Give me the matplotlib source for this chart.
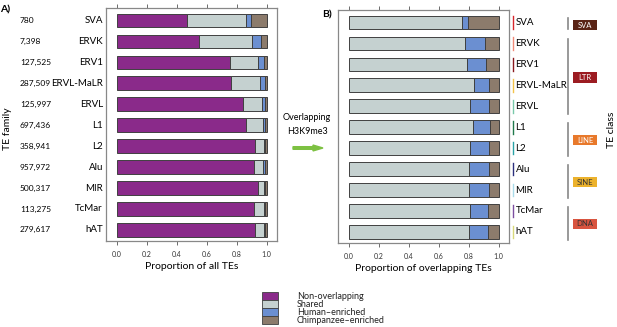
import matplotlib
matplotlib.use("Agg")
import matplotlib.pyplot as plt
from matplotlib.patches import Rectangle, FancyArrow
import numpy as np

plt.rcParams['font.family'] = ['Lato', 'DejaVu Sans']

families = ["SVA", "ERVK", "ERV1", "ERVL-MaLR", "ERVL", "L1", "L2", "Alu", "MIR", "TcMar", "hAT"]
counts = ["780", "7,398", "127,525", "287,509", "125,997", "697,436", "358,941", "957,972", "500,317", "113,275", "279,617"]

# Panel A: proportions of all TEs
a_nonoverlap = [0.468, 0.548, 0.757, 0.762, 0.840, 0.866, 0.926, 0.913, 0.940, 0.918, 0.924]
a_shared     = [0.396, 0.352, 0.187, 0.196, 0.127, 0.109, 0.056, 0.062, 0.044, 0.062, 0.056]
a_human      = [0.031, 0.060, 0.036, 0.029, 0.020, 0.016, 0.011, 0.015, 0.009, 0.010, 0.010]
a_chimp      = [0.105, 0.040, 0.020, 0.013, 0.013, 0.009, 0.007, 0.010, 0.007, 0.010, 0.010]

# Panel B: proportions of overlapping TEs
b_shared = [0.754, 0.777, 0.790, 0.835, 0.808, 0.828, 0.808, 0.804, 0.800, 0.812, 0.800]
b_human  = [0.043, 0.131, 0.123, 0.103, 0.130, 0.118, 0.130, 0.129, 0.138, 0.119, 0.131]
b_chimp  = [0.203, 0.092, 0.087, 0.062, 0.062, 0.054, 0.062, 0.067, 0.062, 0.069, 0.069]

family_colors = ["#d7262b", "#f08a78", "#8b1a1f", "#f3c34a", "#79c9a9", "#1f7a4c",
                 "#2aa3a6", "#2b2f7d", "#a9dbe9", "#7c4ea0", "#d9d97a"]

classes = ["SVA", "LTR", "LINE", "SINE", "DNA"]
class_spans = [(0, 0), (1, 4), (5, 6), (7, 8), (9, 10)]
class_colors = ["#5a2415", "#9c1c22", "#e8792b", "#ecb22c", "#d8543f"]
class_text = ["white", "white", "white", "#333333", "#333333"]

legend_labels = ["Non-overlapping", "Shared", "Human\u2013enriched", "Chimpanzee\u2013enriched"]
col_non = "#8a2a8a"
col_shared = "#c5d1d0"
col_human = "#6b8fd1"
col_chimp = "#8c7b6c"
edge = "#404040"

W, H = 617, 327
fig = plt.figure(figsize=(W / 100, H / 100), dpi=100)

def fx(px):
    return px / W

def fy(py):
    return 1 - py / H

def make_ax(left, right, top, bottom):
    return fig.add_axes([fx(left), fy(bottom), fx(right - left), (bottom - top) / H])

y = np.arange(len(families))
bh = 0.66

def style_ax(ax):
    ax.set_xlim(-0.073, 1.07)
    ax.set_ylim(10.53, -0.6)
    ax.set_yticks([])
    ax.set_xticks([0, 0.2, 0.4, 0.6, 0.8, 1.0])
    ax.set_xticklabels(["0.0", "0.2", "0.4", "0.6", "0.8", "1.0"], fontsize=5)
    ax.tick_params(axis='x', top=True, bottom=True, direction='out', length=3, width=0.6,
                   color="#555555", pad=4, labelcolor="#333333")
    for s in ax.spines.values():
        s.set_color("#888888")
        s.set_linewidth(0.9)

axA = make_ax(106, 277, 8, 241)
left = np.zeros(len(families))
for vals, c in [(a_nonoverlap, col_non), (a_shared, col_shared), (a_human, col_human), (a_chimp, col_chimp)]:
    axA.barh(y, vals, left=left, height=bh, color=c, edgecolor=edge, linewidth=0.7)
    left = left + np.array(vals)
style_ax(axA)
axA.set_xlabel("Proportion of all TEs", fontsize=7.5, labelpad=3)

axB = make_ax(338, 509, 10, 243)
left = np.zeros(len(families))
for vals, c in [(b_shared, col_shared), (b_human, col_human), (b_chimp, col_chimp)]:
    axB.barh(y, vals, left=left, height=bh, color=c, edgecolor=edge, linewidth=0.7)
    left = left + np.array(vals)
style_ax(axB)
axB.set_xlabel("Proportion of overlapping TEs", fontsize=7.5, labelpad=3)

# Panel A labels
trA = matplotlib.transforms.blended_transform_factory(fig.transFigure, axA.transData)
for i, (fam, cnt) in enumerate(zip(families, counts)):
    axA.text(fx(103), i, fam, transform=trA, ha='right', va='center', fontsize=7)
    axA.text(fx(20), i, cnt, transform=trA, ha='left', va='center', fontsize=6)

fig.text(fx(8), fy(129), "TE family", rotation=90, ha='center', va='center', fontsize=7.5)
fig.text(fx(0), fy(10), "A)", ha='left', va='center', fontsize=7.5, fontweight='bold')
fig.text(fx(322), fy(15), "B)", ha='left', va='center', fontsize=7.5, fontweight='bold')

# Overlapping text and arrow
fig.text(fx(307), fy(118), "Overlapping", ha='center', va='center', fontsize=6.5)
fig.text(fx(307), fy(132), "H3K9me3", ha='center', va='center', fontsize=6.5)
fig.patches.append(FancyArrow(fx(293), fy(148), fx(30), 0, width=0.008, head_width=0.018,
                              head_length=fx(10), length_includes_head=True,
                              color="#7dc142", transform=fig.transFigure, figure=fig))

# Panel B family labels with colored ticks
trB = matplotlib.transforms.blended_transform_factory(fig.transFigure, axB.transData)
for i, (fam, c) in enumerate(zip(families, family_colors)):
    axB.plot([fx(513), fx(513)], [i - 0.3, i + 0.3], color=c, lw=1.0, transform=trB, clip_on=False)
    axB.text(fx(515.5), i, fam, ha='left', va='center', fontsize=7, transform=trB)

# class brackets and boxes
for (s, e), name, c, tc in zip(class_spans, classes, class_colors, class_text):
    if s == e:
        y0, y1 = s - 0.2, e + 0.3
    else:
        y0, y1 = s - 0.2, e + 0.38
    axB.plot([fx(568), fx(568)], [y0, y1], color="#888888", lw=1.2, transform=trB, clip_on=False)
    mid = (s + e) / 2 + 0.12
    axB.add_patch(Rectangle((fx(573), mid - 0.25), fx(24), 0.5, facecolor=c, edgecolor='none',
                            transform=trB, clip_on=False))
    axB.text(fx(585), mid, name, ha='center', va='center', fontsize=5.5, color=tc, transform=trB)

fig.text(fx(611), fy(130), "TE class", rotation=90, ha='center', va='center', fontsize=7.5)

# Legend
leg_cols = [col_non, col_shared, col_human, col_chimp]
for k, (lab, c) in enumerate(zip(legend_labels, leg_cols)):
    top = 292 + 8 * k
    fig.patches.append(Rectangle((fx(262), fy(top + 8)), fx(16), 8 / H, facecolor=c,
                                 edgecolor=edge, linewidth=0.6, transform=fig.transFigure, figure=fig))
    fig.text(fx(297), fy(top + 4.5), lab, ha='left', va='center', fontsize=6.5, color="#222222")

fig.savefig("out.png", dpi=100)
